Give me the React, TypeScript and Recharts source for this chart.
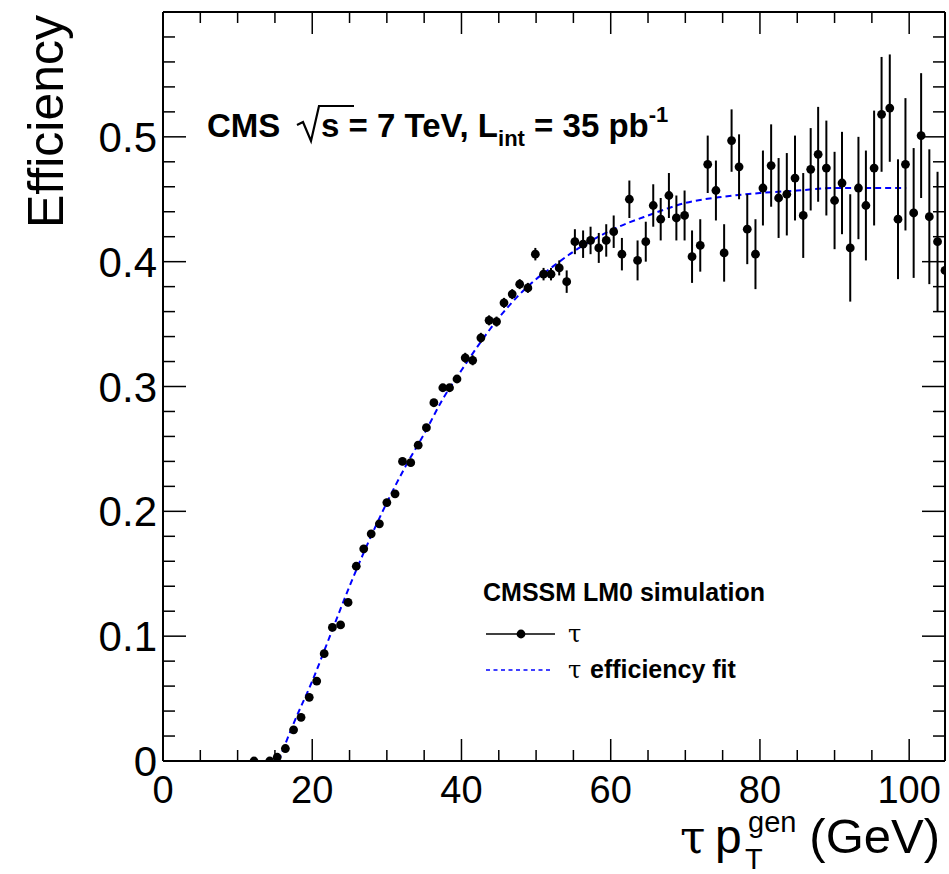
import React from 'react';
import { ComposedChart, XAxis, YAxis, Scatter, Line, ErrorBar } from 'recharts';

// tau pT (GeV), efficiency, and uncertainty of each point
const ptValues = [
  12.2, 14.3, 15.3, 16.4, 17.5, 18.5, 19.6, 20.6, 21.6, 22.7, 23.8, 24.8, 25.9, 26.9, 27.9, 29.0,
  30.0, 31.1, 32.1, 33.2, 34.2, 35.3, 36.3, 37.5, 38.4, 39.4, 40.5, 41.5, 42.6, 43.7, 44.7, 45.7,
  46.8, 47.8, 48.9, 49.9, 51.0, 52.0, 53.1, 54.1, 55.2, 56.3, 57.3, 58.4, 59.4, 60.4, 61.5, 62.5,
  63.6, 64.7, 65.7, 66.7, 67.8, 68.8, 69.9, 70.9, 72.0, 73.0, 74.1, 75.2, 76.2, 77.2, 78.3, 79.4,
  80.4, 81.5, 82.5, 83.6, 84.7, 85.8, 86.8, 87.8, 88.9, 90.0, 91.0, 92.1, 93.2, 94.2, 95.3, 96.3,
  97.4, 98.5, 99.5, 100.6, 101.6, 102.7, 103.8, 104.8,
];
const effValues = [
  0.0, 0.0, 0.003, 0.01, 0.025, 0.035, 0.051, 0.064, 0.086, 0.107, 0.109, 0.127, 0.156, 0.17, 0.182, 0.19,
  0.207, 0.214, 0.24, 0.239, 0.253, 0.267, 0.287, 0.299, 0.299, 0.306, 0.323, 0.321, 0.339, 0.353, 0.352, 0.367,
  0.374, 0.382, 0.379, 0.406, 0.39, 0.39, 0.395, 0.384, 0.416, 0.414, 0.417, 0.411, 0.417, 0.424, 0.406, 0.45,
  0.401, 0.416, 0.445, 0.434, 0.453, 0.435, 0.437, 0.404, 0.413, 0.478, 0.457, 0.407, 0.497, 0.476, 0.426, 0.406,
  0.459, 0.477, 0.451, 0.454, 0.467, 0.437, 0.474, 0.486, 0.475, 0.449, 0.463, 0.411, 0.459, 0.445, 0.475, 0.518,
  0.523, 0.434, 0.478, 0.439, 0.501, 0.436, 0.416, 0.393,
];
const effErrors = [
  0.0, 0.0, 0.003, 0.003, 0.003, 0.003, 0.003, 0.003, 0.003, 0.003, 0.003, 0.003, 0.003, 0.003, 0.003, 0.003,
  0.003, 0.003, 0.003, 0.003, 0.003, 0.003, 0.003, 0.003, 0.003, 0.003, 0.004, 0.004, 0.004, 0.004, 0.004, 0.004,
  0.004, 0.004, 0.004, 0.005, 0.005, 0.005, 0.006, 0.009, 0.01, 0.011, 0.011, 0.012, 0.013, 0.013, 0.013, 0.015,
  0.016, 0.016, 0.017, 0.017, 0.018, 0.018, 0.02, 0.021, 0.021, 0.023, 0.024, 0.023, 0.025, 0.026, 0.028, 0.028,
  0.03, 0.033, 0.032, 0.033, 0.034, 0.034, 0.033, 0.038, 0.038, 0.039, 0.041, 0.043, 0.041, 0.044, 0.046, 0.046,
  0.043, 0.048, 0.053, 0.052, 0.05, 0.054, 0.056, 0.057,
];

// efficiency fit curve
const fitX = [15.5, 17.5, 20, 22.5, 25, 27.5, 30, 32.5, 35, 37.5, 40, 42.5, 45, 47.5, 50, 52, 55, 60, 65, 70, 75, 80, 85, 90, 95, 99.6];
const fitY = [0, 0.03, 0.064, 0.102, 0.14, 0.175, 0.207, 0.236, 0.262, 0.29, 0.313, 0.335, 0.355, 0.372, 0.386, 0.395, 0.408, 0.425, 0.437, 0.447, 0.452, 0.455, 0.457, 0.459, 0.459, 0.459];

const xTicks = [0, 5, 10, 15, 20, 25, 30, 35, 40, 45, 50, 55, 60, 65, 70, 75, 80, 85, 90, 95, 100];
const yTicks = Array.from({ length: 30 }, (_, i) => Math.round(i * 2) / 100);

const points = ptValues.map((x, i) => ({ x, y: effValues[i], err: effErrors[i] }));
const fitData = fitX.map((x, i) => ({ x, y: fitY[i] }));

const W = 949;
const H = 874;
const LEFT = 163;
const RIGHT = 945;
const TOP = 12;
const BOTTOM = 761;

const SANS = '"Liberation Sans", Arial, Helvetica, sans-serif';
const SERIF = '"DejaVu Serif", "Liberation Serif", serif';

const isMajorX = (v: number) => v % 20 === 0;
const isMajorY = (v: number) => Math.abs(v * 10 - Math.round(v * 10)) < 1e-6;

const BottomTick = (props: any) => {
  const { x, payload } = props;
  const v = payload.value;
  const major = isMajorX(v);
  return (
    <g>
      <line x1={x} x2={x} y1={BOTTOM} y2={BOTTOM - (major ? 22 : 11)} stroke="#000" strokeWidth={1.5} />
      {major && (
        <text x={x} y={803} textAnchor="middle" fontFamily={SANS} fontSize={38} fill="#000">
          {v}
        </text>
      )}
    </g>
  );
};

const TopTick = (props: any) => {
  const { x, payload } = props;
  const major = isMajorX(payload.value);
  return <line x1={x} x2={x} y1={TOP} y2={TOP + (major ? 22 : 11)} stroke="#000" strokeWidth={1.5} />;
};

const LeftTick = (props: any) => {
  const { y, payload } = props;
  const v = payload.value;
  const major = isMajorY(v);
  return (
    <g>
      <line x1={LEFT} x2={LEFT + (major ? 23 : 12)} y1={y} y2={y} stroke="#000" strokeWidth={1.5} />
      {major && (
        <text x={157} y={y + 15} textAnchor="end" fontFamily={SANS} fontSize={42} fill="#000">
          {v === 0 ? '0' : v.toFixed(1)}
        </text>
      )}
    </g>
  );
};

const RightTick = (props: any) => {
  const { y, payload } = props;
  const major = isMajorY(payload.value);
  return <line x1={RIGHT} x2={RIGHT - (major ? 23 : 12)} y1={y} y2={y} stroke="#000" strokeWidth={1.5} />;
};

const Dot = (props: any) => <circle cx={props.cx} cy={props.cy} r={4.4} fill="#000" />;

const frameLine = { stroke: '#000', strokeWidth: 2 };

export default function App() {
  return (
    <div style={{ position: 'absolute', left: 0, top: 0, width: W, height: H, background: '#fff' }}>
      <ComposedChart
        width={W}
        height={H}
        margin={{ top: TOP - 1, right: W - RIGHT - 1, bottom: H - BOTTOM - 1, left: LEFT - 1 }}
      >
        <XAxis
          xAxisId="b"
          type="number"
          dataKey="x"
          domain={[0, 104.8]}
          ticks={xTicks}
          interval={0}
          height={1}
          tickSize={0}
          tickMargin={0}
          tickLine={false}
          axisLine={frameLine}
          tick={<BottomTick />}
          allowDataOverflow
        />
        <XAxis
          xAxisId="t"
          orientation="top"
          type="number"
          dataKey="x"
          domain={[0, 104.8]}
          ticks={xTicks}
          interval={0}
          height={1}
          tickSize={0}
          tickMargin={0}
          tickLine={false}
          axisLine={frameLine}
          tick={<TopTick />}
          allowDataOverflow
        />
        <YAxis
          yAxisId="l"
          type="number"
          domain={[0, 0.6]}
          ticks={yTicks}
          interval={0}
          width={1}
          tickSize={0}
          tickMargin={0}
          tickLine={false}
          axisLine={frameLine}
          tick={<LeftTick />}
          allowDataOverflow
        />
        <YAxis
          yAxisId="r"
          orientation="right"
          type="number"
          domain={[0, 0.6]}
          ticks={yTicks}
          interval={0}
          width={1}
          tickSize={0}
          tickMargin={0}
          tickLine={false}
          axisLine={frameLine}
          tick={<RightTick />}
          allowDataOverflow
        />
        <Line
          xAxisId="b"
          yAxisId="l"
          data={fitData}
          dataKey="y"
          type="monotone"
          stroke="#0000ff"
          strokeWidth={2}
          strokeDasharray="6 4"
          dot={false}
          activeDot={false}
          isAnimationActive={false}
        />
        <Scatter xAxisId="b" yAxisId="l" data={points} dataKey="y" fill="#000" shape={<Dot />} isAnimationActive={false}>
          <ErrorBar dataKey="err" direction="y" width={0} stroke="#000" strokeWidth={2} />
        </Scatter>
      </ComposedChart>

      <svg width={W} height={H} style={{ position: 'absolute', left: 0, top: 0, pointerEvents: 'none' }}>
        {/* axis titles */}
        <text x={63} y={15} transform="rotate(-90 63 15)" textAnchor="end" fontFamily={SANS} fontSize={50} fill="#000">
          Efficiency
        </text>
        <text x={680} y={853} fontFamily={SERIF} fontSize={46} fill="#000">τ</text>
        <text x={715} y={853} fontFamily={SANS} fontSize={48} fill="#000">p</text>
        <text x={745} y={869} fontFamily={SANS} fontSize={29} fill="#000">T</text>
        <text x={748} y={832} fontFamily={SANS} fontSize={29} fill="#000">gen</text>
        <text x={940} y={853} textAnchor="end" fontFamily={SANS} fontSize={49} fill="#000">(GeV)</text>

        {/* CMS label */}
        <text x={207} y={137} fontFamily={SANS} fontWeight="bold" fontSize={33} fill="#000">CMS</text>
        <path d="M297 125 L303 122 L311 141 L319 106 L354 106" stroke="#000" strokeWidth={2.2} fill="none" />
        <text x={321} y={137} fontFamily={SANS} fontWeight="bold" fontSize={33} fill="#000">
          s = 7 TeV, L
          <tspan dy={9} fontSize={22}>int</tspan>
          <tspan dy={-9}> = 35 pb</tspan>
          <tspan dy={-15} fontSize={22}>-1</tspan>
        </text>

        {/* legend */}
        <text x={483} y={601} fontFamily={SANS} fontWeight="bold" fontSize={25} fill="#000">CMSSM LM0 simulation</text>
        <line x1={486} x2={555} y1={634} y2={634} stroke="#000" strokeWidth={1.5} />
        <circle cx={521} cy={634} r={4.4} fill="#000" />
        <text x={568} y={642} fontFamily={SERIF} fontSize={24} fill="#000">τ</text>
        <line x1={486} x2={553} y1={670} y2={670} stroke="#0000ff" strokeWidth={1.5} strokeDasharray="4 3.5" />
        <text x={568} y={678} fontFamily={SERIF} fontSize={24} fill="#000">τ</text>
        <text x={590} y={678} fontFamily={SANS} fontWeight="bold" fontSize={25} fill="#000">efficiency fit</text>
      </svg>
    </div>
  );
}
